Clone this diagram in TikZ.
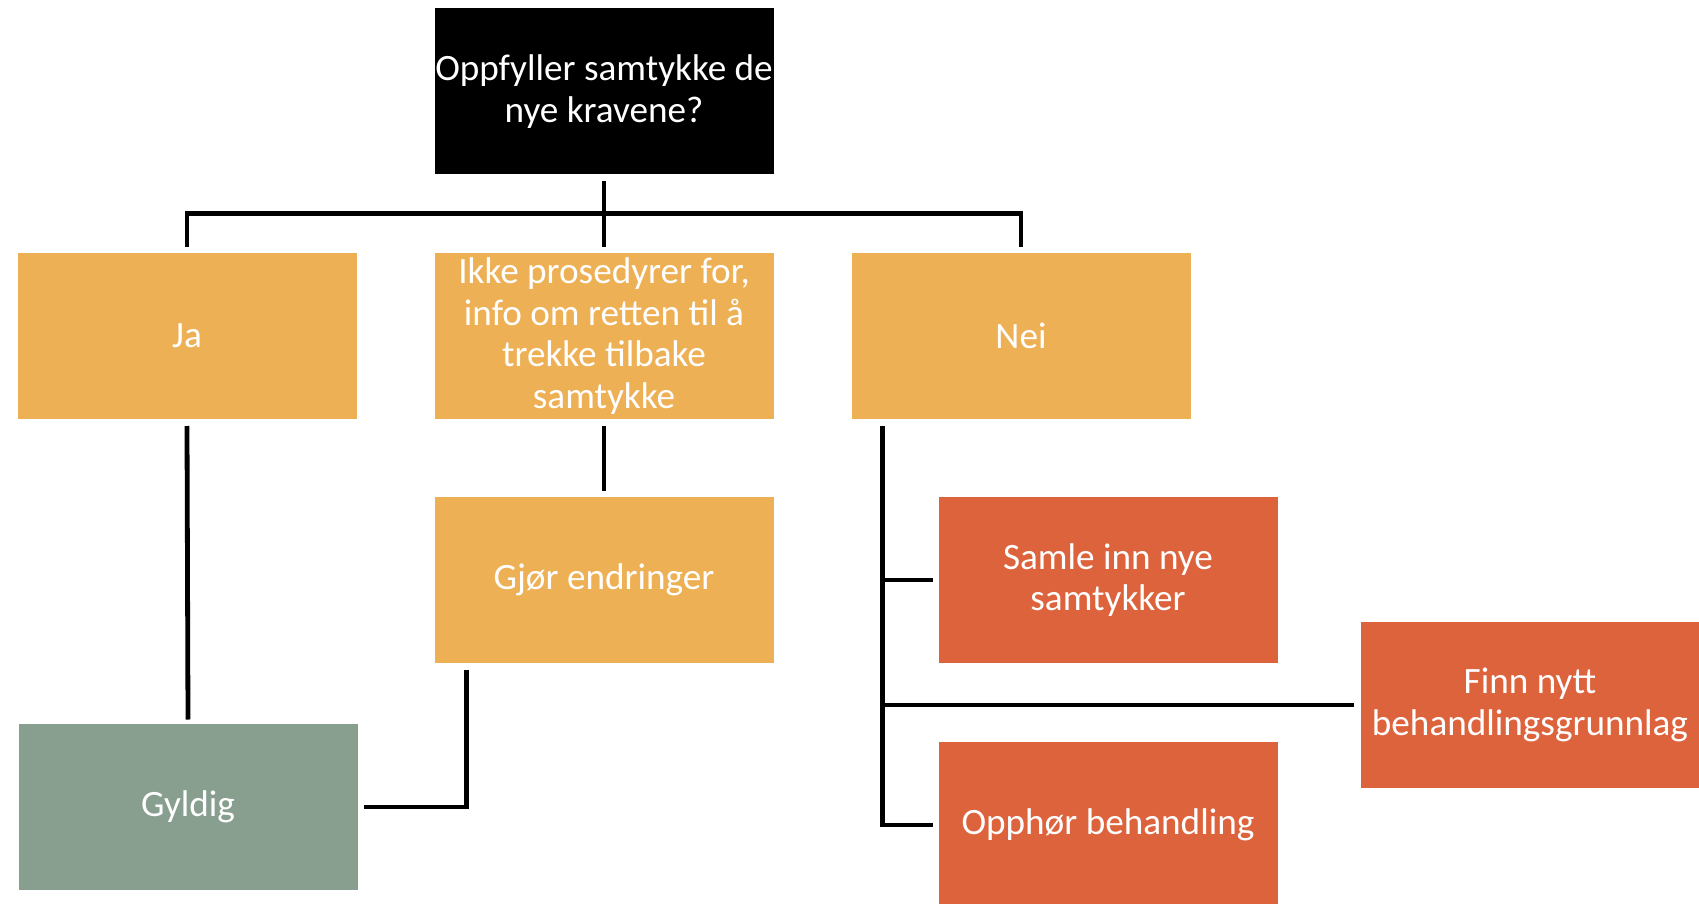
\documentclass[tikz,border=0pt]{standalone}
\usepackage{fontspec}
\setmainfont{Carlito}
\usetikzlibrary{calc}
\definecolor{boxgold}{RGB}{238,176,85}
\definecolor{boxred}{RGB}{221,99,60}
\definecolor{boxgreen}{RGB}{136,158,143}
\tikzset{
  box/.style={rectangle, minimum width=169.5pt, minimum height=83pt,
    inner sep=0pt, outer sep=0pt, align=center, text=white,
    font=\fontsize{18.6}{20.7}\selectfont},
  goldbox/.style={box, fill=boxgold},
  redbox/.style={box, fill=boxred},
  greenbox/.style={box, fill=boxgreen},
  qbox/.style={box, fill=black},
  conn/.style={draw=black, line width=2.4pt, line join=miter}
}
\begin{document}
\begin{tikzpicture}[x=0.5pt, y=-0.5pt]
  \fill[white] (0,0) rectangle (1699,904);
  \useasboundingbox (0,0) rectangle (1699,904);

  % question and first answers
  \node[qbox] (top) at (604,91.5) {Oppfyller samtykke de\\nye kravene?};
  \node[goldbox] (ja) at (187,336) {Ja};
  \node[goldbox] (mid) at (604,336) {Ikke prosedyrer for,\\info om retten til å\\trekke tilbake\\samtykke};
  \node[goldbox] (nei) at (1021,336) {Nei};

  % follow-up steps
  \node[goldbox] (gjor) at (604,580) {Gjør endringer};
  \node[greenbox] (gyldig) at (188,807) {Gyldig};
  \node[redbox] (samle) at (1108,580) {Samle inn nye\\samtykker};
  \node[redbox] (finn) at (1530,705) {Finn nytt\\behandlingsgrunnlag};
  \node[redbox] (opph) at (1108,825) {Opphør behandling};

  % branching under the question
  \coordinate (bar) at (604,213.5);
  \draw[conn] ($(top.south)+(0,7)$) -- ($(mid.north)+(0,-6)$);
  \draw[conn] ($(ja.north)+(0,-6)$) |- (bar) -| ($(nei.north)+(0,-6)$);

  % Ja -> Gyldig
  \draw[conn] ($(ja.south)+(0,7)$) -- ($(gyldig.north)+(0,-4.5)$);
  % middle -> Gjør endringer -> Gyldig
  \draw[conn] ($(mid.south)+(0,7)$) -- ($(gjor.north)+(0,-6)$);
  \draw[conn] ($(gjor.south west)+(32,7)$) |- ($(gyldig.east)+(6,0)$);

  % Nei -> three options
  \coordinate (trunk) at ($(nei.south west)+(31,7)$);
  \draw[conn] (trunk) |- ($(opph.west)+(-6,0)$);
  \draw[conn] (samle.west -| trunk) -- ($(samle.west)+(-6,0)$);
  \draw[conn] (finn.west -| trunk) -- ($(finn.west)+(-7,0)$);
\end{tikzpicture}
\end{document}
